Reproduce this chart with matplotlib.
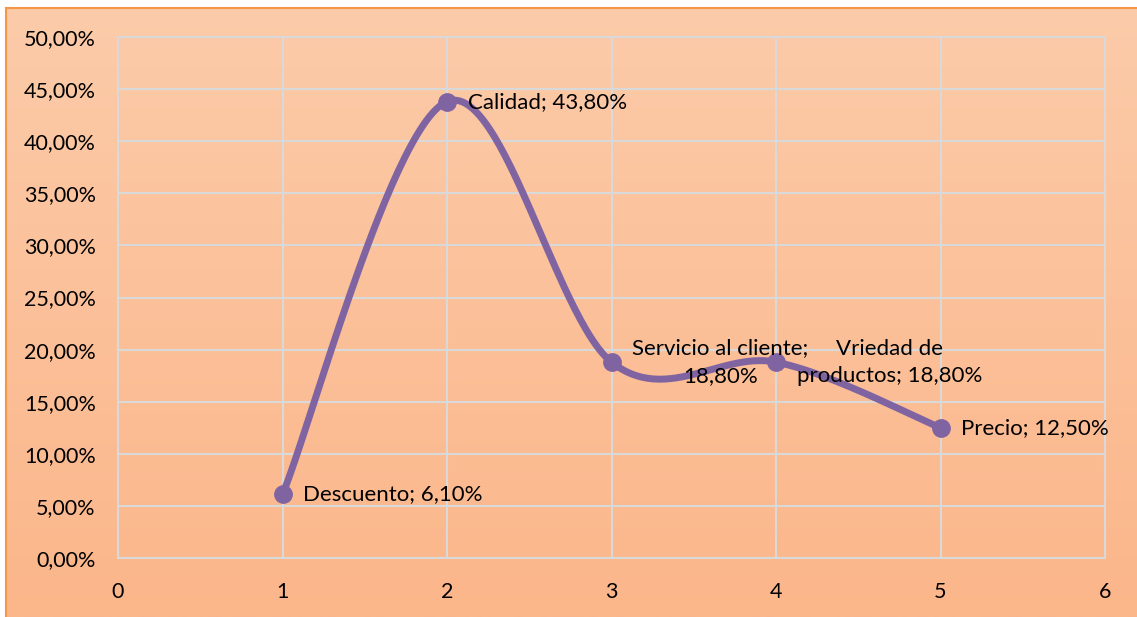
import numpy as np
import matplotlib.pyplot as plt
from matplotlib.colors import LinearSegmentedColormap
from matplotlib.ticker import FuncFormatter, MultipleLocator

# datos
posicion = [1, 2, 3, 4, 5]
porcentaje = [6.1, 43.8, 18.8, 18.8, 12.5]
etiquetas = ["Descuento; 6,10%", "Calidad; 43,80%",
             "Servicio al cliente;\n18,80%", "Vriedad de\nproductos; 18,80%",
             "Precio; 12,50%"]

plt.rcParams['font.family'] = ['Lato', 'DejaVu Sans']

def suavizar(x, y, n=60):
    # curva tipo Catmull-Rom por tramos de Bezier cubicos
    x = np.asarray(x, float)
    y = np.asarray(y, float)
    px = np.concatenate([[x[0]], x, [x[-1]]])
    py = np.concatenate([[y[0]], y, [y[-1]]])
    xs, ys = [], []
    t = np.linspace(0, 1, n)
    for i in range(1, len(px) - 2):
        p0 = np.array([px[i], py[i]])
        p3 = np.array([px[i+1], py[i+1]])
        c1 = p0 + (np.array([px[i+1], py[i+1]]) - np.array([px[i-1], py[i-1]])) / 6
        c2 = p3 - (np.array([px[i+2], py[i+2]]) - np.array([px[i], py[i]])) / 6
        b = ((1-t)**3)[:, None]*p0 + (3*(1-t)**2*t)[:, None]*c1 \
            + (3*(1-t)*t**2)[:, None]*c2 + (t**3)[:, None]*p3
        xs.append(b[:, 0])
        ys.append(b[:, 1])
    return np.concatenate(xs), np.concatenate(ys)

W, H = 1137, 617
fig = plt.figure(figsize=(W/100, H/100), dpi=100)

# fondo degradado con borde naranja
bg = fig.add_axes([6/W, 0, 1 - 6/W, (H - 8)/H])
cmap = LinearSegmentedColormap.from_list("fondo", ["#FCCBA9", "#FBB68A"])
bg.imshow(np.linspace(0, 1, 256)[:, None], aspect='auto', cmap=cmap,
          extent=[0, 1, 0, 1], origin='upper')
bg.set_xticks([])
bg.set_yticks([])
for lado in ['right', 'bottom']:
    bg.spines[lado].set_visible(False)
for lado in ['top', 'left']:
    bg.spines[lado].set_color('#F79646')
    bg.spines[lado].set_linewidth(1.5)

ax = fig.add_axes([118/W, 59/H, (1105 - 118)/W, (558 - 37)/H])
ax.set_facecolor('none')
ax.set_xlim(0, 6)
ax.set_ylim(0, 50)
ax.xaxis.set_major_locator(MultipleLocator(1))
ax.yaxis.set_major_locator(MultipleLocator(5))
ax.yaxis.set_major_formatter(FuncFormatter(lambda v, p: f"{v:.2f}%".replace('.', ',')))
ax.grid(True, color='#D9D9D9', linewidth=1.5)
ax.set_axisbelow(True)
for s in ax.spines.values():
    s.set_color('#D9D9D9')
    s.set_linewidth(1.5)
ax.tick_params(length=0, labelsize=15.5, colors='black')
ax.tick_params(axis='y', pad=16)
ax.tick_params(axis='x', pad=17)

xs, ys = suavizar(posicion, porcentaje)
ax.plot(xs, ys, color='#8064A2', linewidth=5, solid_capstyle='round', zorder=3)
ax.plot(posicion, porcentaje, 'o', color='#8064A2', markersize=12.5, zorder=4)

for x, y, txt in zip(posicion, porcentaje, etiquetas):
    ax.annotate(txt, (x, y), xytext=(15, 0), textcoords='offset points',
                ha='left', va='center', multialignment='center', fontsize=16,
                linespacing=1.45, zorder=5)

fig.savefig('out.png', dpi=100)
